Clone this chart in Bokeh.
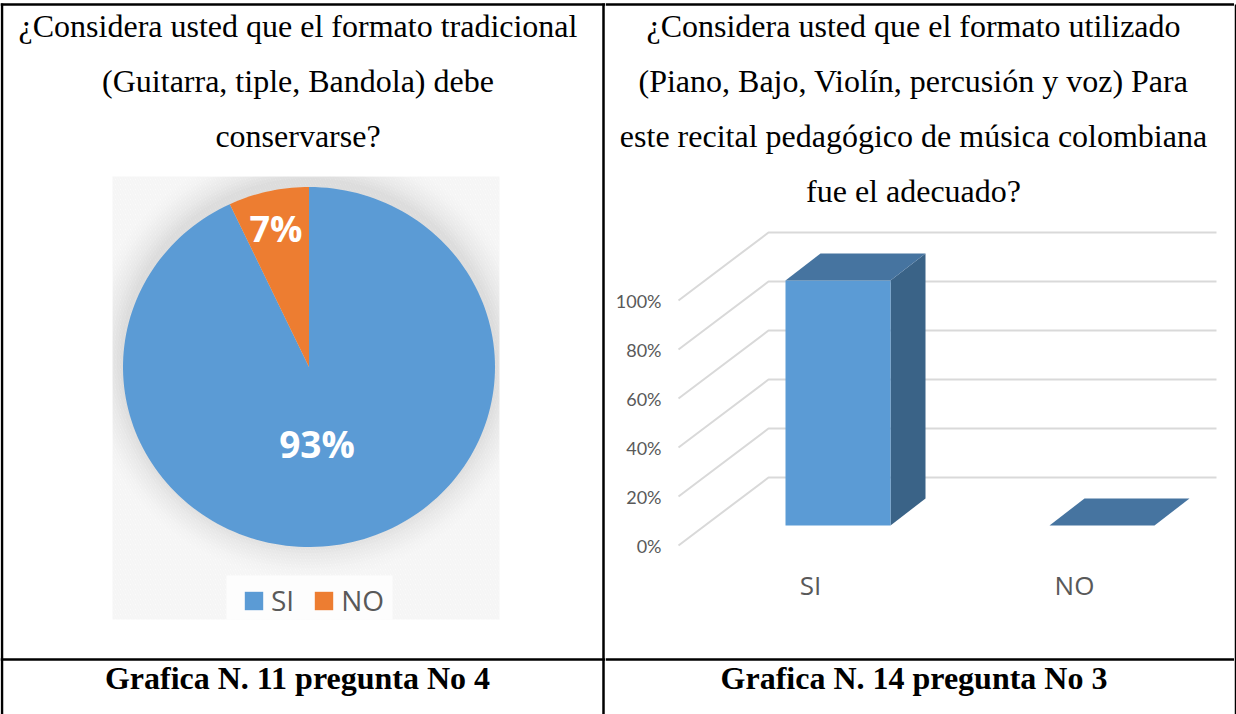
import numpy as np
from bokeh.embed import file_html
from bokeh.layouts import column, row
from bokeh.models import FixedTicker, Legend, LegendItem, LinearAxis, Range1d
from bokeh.plotting import figure
from bokeh.resources import INLINE
from bokeh.core.properties import value

# ---- data ----
pie_labels = ["SI", "NO"]
pie_values = [93, 7]
bar_categories = ["SI", "NO"]
bar_values = [100, 0]
y_ticks = [0, 20, 40, 60, 80, 100]
left_question = ["¿Considera usted que el formato tradicional",
                 "(Guitarra, tiple, Bandola) debe",
                 "conservarse?"]
right_question = ["¿Considera usted que el formato utilizado",
                  "(Piano, Bajo, Violín, percusión y voz) Para",
                  "este recital pedagógico de música colombiana",
                  "fue el adecuado?"]
left_caption = "Grafica N. 11 pregunta No 4"
right_caption = "Grafica N. 14 pregunta No 3"

# ---- style ----
SERIF = value("Liberation Serif")
BLUE, ORANGE = "#5B9BD5", "#ED7D31"
TOP, SIDE = "#4674A0", "#3A6387"
GRID = "#D9D9D9"
LINE = 2.5
RIGHT_EDGE = 1234
BG_L, BG_R, BG_T, BG_B = 112, 499, 176, 619


def page_fig(w, h, x0, x1, y0, y1, **kw):
    f = figure(width=w, height=h, x_range=Range1d(x0, x1), y_range=Range1d(y1, y0),
               output_backend="svg", toolbar_location=None, min_border=0, frame_align=False,
               x_axis_location=None, y_axis_location=None, outline_line_color=None, **kw)
    f.grid.visible = False
    return f


def txt(f, x, y, s, size, style="normal"):
    f.text([x], [y], text=[s], text_font=SERIF, text_font_size=size, text_color="#000000",
           text_align="center", text_baseline="middle", text_font_style=style)


# ---- left column ----
L = page_fig(605, 714, 0, 605, 0, 714)
for x in (1.5, 603):
    L.line([x, x], [3, 714], color="black", line_width=LINE)
for y in (4, 659):
    L.line([0, 605], [y, y], color="black", line_width=LINE)
for i, s in enumerate(left_question):
    txt(L, 297.5, 25 + 55 * i, s, "32px")
txt(L, 297, 677, left_caption, "32px", "bold")

L.quad(left=[BG_L], right=[BG_R], top=[BG_T], bottom=[BG_B], fill_color="#FFFFFF", line_color=None,
       hatch_pattern="left_diagonal_line", hatch_color="#F5F5F5", hatch_scale=5, hatch_weight=2)

cx, cy, rx, ry = 308.5, 366.5, 186, 180
theta = np.linspace(0, 2 * np.pi, 181)
for grow, alpha in zip(range(36, 0, -3), np.linspace(0.01, 0.028, 12)):
    L.patch(np.clip(cx + (rx + grow) * np.sin(theta), BG_L, BG_R),
            np.clip(cy - 6 - (ry + grow) * np.cos(theta), BG_T, BG_B),
            fill_color="#808080", fill_alpha=float(alpha), line_color=None)

total = sum(pie_values)
no_start = 2 * np.pi * (1 - pie_values[1] / total)
a_si = np.linspace(0, no_start, 180)
a_no = np.linspace(no_start, 2 * np.pi, 20)
r_si = L.patch(np.r_[cx, cx + rx * np.sin(a_si)], np.r_[cy, cy - ry * np.cos(a_si)],
               fill_color=BLUE, line_color=None)
r_no = L.patch(np.r_[cx, cx + rx * np.sin(a_no)], np.r_[cy, cy - ry * np.cos(a_no)],
               fill_color=ORANGE, line_color=None)
for x, y, v, size in ((316.5, 443, pie_values[0], "37px"), (275.5, 228, pie_values[1], "36px")):
    L.text([x], [y], text=[f"{v}%"], text_font=value("Open Sans"), text_font_size=size,
           text_font_style="bold", text_color="white", text_align="center", text_baseline="middle")

L.quad(left=[226], right=[392], top=[575], bottom=[619], fill_color="#FDFDFD", line_color=None)
legend = Legend(items=[LegendItem(label=pie_labels[0], renderers=[r_si]),
                       LegendItem(label=pie_labels[1], renderers=[r_no])],
                orientation="horizontal", location=(242, 95), background_fill_alpha=0,
                border_line_color=None, glyph_width=23, glyph_height=23,
                label_text_font="Open Sans", label_text_font_size="28px", label_text_color="#595959",
                padding=6, margin=0, spacing=18, label_standoff=6)
L.add_layout(legend, "center")

# ---- right column, question ----
W = 629
T = page_fig(W, 215, 605, 1234, 0, 215)
T.line([605, 1234], [4, 4], color="black", line_width=LINE)
for i, s in enumerate(right_question):
    txt(T, 913, 25 + 55 * i, s, "32px")

# ---- right column, chart ----
PX_X = 264.0   # px per category step
PX_Y = 2.45    # px per percent
X0 = 810       # page x of first category
Y0 = 545       # page y of 0 %
FRAME_L, FRAME_R, FRAME_T, FRAME_B = 665, RIGHT_EDGE, 215, 566


def X(px):
    return (px - X0) / PX_X


def Y(px):
    return (Y0 - px) / PX_Y


C = figure(width=W, height=405, x_range=Range1d(X(FRAME_L), X(FRAME_R)),
           y_range=Range1d(Y(FRAME_B), Y(FRAME_T)), output_backend="svg", toolbar_location=None,
           min_border=0, min_border_left=60, min_border_bottom=54, outline_line_color=None,
           x_axis_type=None, y_axis_type=None, frame_align=False)
C.grid.visible = False

for v in y_ticks:
    C.line([X(678), X(768), X(1216)], [v, v + 68 / PX_Y, v + 68 / PX_Y], color=GRID, line_width=2)

depth_x, depth_y = 35 / PX_X, 27 / PX_Y
base = Y(525)
bar_w = 105 / PX_X
offset = (785 - X0) / PX_X
for i, v in enumerate(bar_values):
    l, r, t = i + offset, i + offset + bar_w, base + v
    if v > 0:
        C.patch([r, r + depth_x, r + depth_x, r], [base, base + depth_y, t + depth_y, t],
                fill_color=SIDE, line_color=None)
        C.quad(left=[l], right=[r], bottom=[base], top=[t], fill_color=BLUE, line_color=None)
    C.patch([l, r, r + depth_x, l + depth_x], [t, t, t + depth_y, t + depth_y],
            fill_color=TOP, line_color=None)

yaxis = LinearAxis(ticker=FixedTicker(ticks=y_ticks), axis_line_color=None, major_tick_line_color=None,
                   minor_tick_line_color=None, major_label_overrides={v: f"{v}%" for v in y_ticks},
                   major_label_text_font="Lato", major_label_text_font_size="18px",
                   major_label_text_color="#595959", major_label_standoff=4,
                   major_tick_out=0, major_tick_in=0)
C.add_layout(yaxis, "left")
xaxis = LinearAxis(ticker=FixedTicker(ticks=list(range(len(bar_categories)))), axis_line_color=None,
                   major_tick_line_color=None, minor_tick_line_color=None,
                   major_label_overrides={i: c for i, c in enumerate(bar_categories)},
                   major_label_text_font="Open Sans", major_label_text_font_size="26px",
                   major_label_text_color="#595959", major_label_standoff=0,
                   major_tick_out=0, major_tick_in=0)
C.add_layout(xaxis, "below")

# ---- right column, caption ----
B = page_fig(W, 94, 605, 1234, 620, 714)
B.line([605, 1234], [659, 659], color="black", line_width=LINE)
txt(B, 913.5, 677, right_caption, "32px", "bold")

# ---- right border ----
E = page_fig(2, 714, 0, 2, 0, 714)
E.background_fill_color = "white"
E.line([1, 1], [4, 714], color="black", line_width=2)

page = row(L, column(T, C, B, spacing=0), E, spacing=0,
           styles={"position": "absolute", "left": "0px", "top": "0px"})
open("out.html", "w").write(file_html(page, INLINE))
